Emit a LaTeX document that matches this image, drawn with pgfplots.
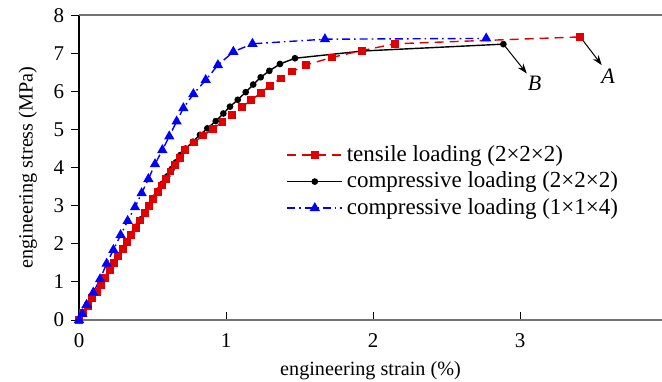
\documentclass[border=0pt]{standalone}
\usepackage{fontspec}
\setmainfont{Liberation Serif}
\usepackage{pgfplots}
\pgfplotsset{compat=1.18}
\usetikzlibrary{arrows.meta}
\definecolor{myred}{RGB}{225,0,0}
\definecolor{myblue}{RGB}{0,0,255}
\definecolor{axgray}{RGB}{115,115,115}

\pgfplotstableread{
x y
0 0
0.029 0.18
0.059 0.37
0.088 0.57
0.120 0.74
0.147 0.92
0.179 1.11
0.209 1.31
0.238 1.50
0.268 1.68
0.297 1.86
0.327 2.05
0.356 2.23
0.386 2.42
0.415 2.61
0.447 2.80
0.474 2.99
0.506 3.17
0.535 3.35
0.565 3.53
0.594 3.71
0.623 3.90
0.653 4.07
0.685 4.25
0.722 4.47
0.780 4.66
0.846 4.84
0.912 5.02
0.976 5.20
1.041 5.39
1.107 5.59
1.172 5.77
1.236 5.96
1.299 6.15
1.372 6.34
1.451 6.52
1.542 6.69
1.719 6.89
1.923 7.07
2.150 7.25
3.410 7.43
}\tensile

\pgfplotstableread{
x y
0 0
0.030 0.18
0.060 0.37
0.090 0.56
0.120 0.74
0.150 0.93
0.180 1.12
0.210 1.31
0.240 1.50
0.270 1.69
0.300 1.88
0.330 2.07
0.360 2.26
0.390 2.45
0.420 2.64
0.450 2.83
0.480 3.02
0.510 3.21
0.540 3.40
0.570 3.58
0.600 3.77
0.630 3.96
0.660 4.14
0.690 4.33
0.725 4.50
0.775 4.68
0.823 4.86
0.873 5.03
0.930 5.22
0.982 5.42
1.027 5.60
1.080 5.78
1.134 5.98
1.185 6.18
1.236 6.37
1.295 6.54
1.367 6.72
1.469 6.87
1.930 7.06
2.887 7.24
}\compA

\pgfplotstableread{
x y
0 0
0.022 0.16
0.052 0.40
0.097 0.72
0.143 1.07
0.188 1.48
0.234 1.84
0.283 2.23
0.331 2.60
0.381 2.96
0.426 3.33
0.472 3.70
0.517 4.09
0.567 4.46
0.614 4.82
0.664 5.21
0.710 5.56
0.778 5.93
0.862 6.30
0.945 6.69
1.050 7.04
1.180 7.25
1.673 7.37
2.770 7.39
}\compB

\begin{document}
\fontsize{10.5}{12}\selectfont
\begin{tikzpicture}
\useasboundingbox (-39.5pt,-30.5pt) rectangle (291.5pt,160pt);
\begin{axis}[
  scale only axis, x=73.5pt, y=19.05pt,
  xmin=0, xmax=3.966, ymin=0, ymax=8,
  axis x line*=bottom, axis y line*=left,
  x axis line style={axgray, line width=0.9pt, -},
  y axis line style={black, line width=0.6pt, -},
  xtick={0,1,2,3}, ytick={0,1,...,8},
  xtick align=inside, ytick align=outside,
  tick style={black, line width=0.5pt},
  major tick length=3.8pt,
  /pgf/number format/assume math mode=true,
  tick label style={font=\fontsize{10.5}{12}\selectfont},
  xticklabel style={yshift=-3pt},
  label style={font=\fontsize{10.1}{12}\selectfont},
  xlabel style={yshift=0pt},
  ylabel style={yshift=1pt},
  xlabel={engineering strain (\%)},
  ylabel={engineering stress (MPa)},
  legend style={draw=none, fill=none, at={(axis cs:1.37,4.80)}, anchor=north west,
    font=\fontsize{11.5}{13}\selectfont, row sep=-0.3pt},
  legend cell align=left,
  legend image code/.code={\draw[mark repeat=2,mark phase=2,#1] plot coordinates {(0cm,0cm) (0.48cm,0cm) (0.96cm,0cm)};},
  extra description/.code={\draw[axgray,line width=0.9pt] (rel axis cs:0,1) -- (rel axis cs:1,1);},
  clip=false,
]
\addlegendimage{myred, line width=0.7pt, dash pattern=on 4.5pt off 3pt, mark=square*, mark size=1.6pt, mark options={solid}}
\addlegendentry{tensile loading (2×2×2)}
\addlegendimage{black, line width=0.7pt, mark=*, mark size=1.3pt}
\addlegendentry{compressive loading (2×2×2)}
\addlegendimage{myblue, line width=0.7pt, dash pattern=on 4pt off 2pt on 0.8pt off 2pt, mark=triangle*, mark size=2.3pt, mark options={solid}}
\addlegendentry{compressive loading (1×1×4)}

\addplot[forget plot, black, line width=0.7pt, mark=*, mark size=1.3pt] table[x=x,y=y] {\compA};
\addplot[forget plot, myred, line width=0.7pt, dash pattern=on 4.5pt off 3pt, mark=square*, mark size=1.6pt, mark options={solid}] table[x=x,y=y] {\tensile};
\addplot[forget plot, myblue, line width=0.7pt, dash pattern=on 4pt off 2pt on 0.8pt off 2pt, mark=triangle*, mark size=2.3pt, mark options={solid}] table[x=x,y=y] {\compB};

\draw[-{Stealth[length=5pt,width=3.5pt]}, line width=0.5pt] (axis cs:2.887,7.24) -- (axis cs:3.046,6.47);
\node[font=\fontsize{11}{13}\selectfont\itshape] at (axis cs:3.10,6.20) {B};
\draw[-{Stealth[length=5pt,width=3.5pt]}, line width=0.5pt] (axis cs:3.410,7.43) -- (axis cs:3.556,6.69);
\node[font=\fontsize{11}{13}\selectfont\itshape] at (axis cs:3.60,6.40) {A};
\end{axis}
\end{tikzpicture}
\end{document}
